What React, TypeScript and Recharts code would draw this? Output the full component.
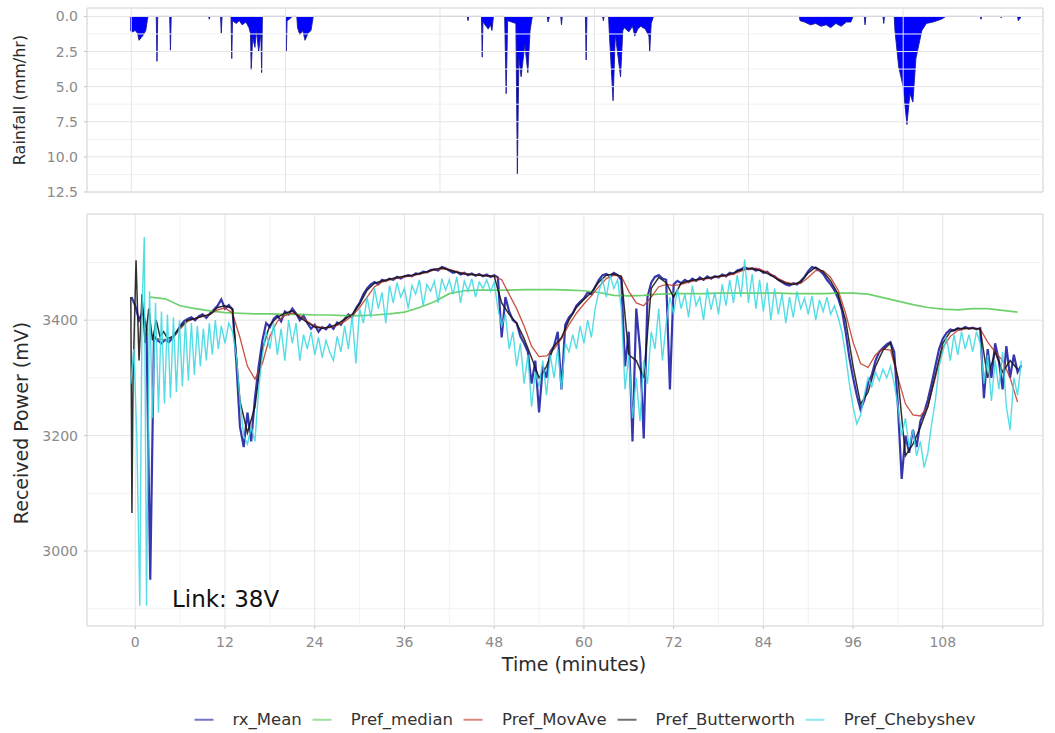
import React from 'react';
import { ComposedChart, Line, Area, XAxis, YAxis, ReferenceLine, ReferenceArea } from 'recharts';

const FONT = '"DejaVu Sans", "Liberation Sans", Arial, sans-serif';

// shared time window (minutes) for both panels
const TIME_DOMAIN: [number, number] = [-6.46, 121.4];
const TIME_TICKS = [0, 12, 24, 36, 48, 60, 72, 84, 96, 108];
const TIME_MINOR = [6, 18, 30, 42, 54, 66, 78, 90, 102];

const RAIN_DOMAIN: [number, number] = [-0.6, 12.5];
const RAIN_TICKS = [0, 2.5, 5, 7.5, 10, 12.5];
const RAIN_MINOR = [1.25, 3.75, 6.25, 8.75, 11.25];
const RAIN_GRID_X = [-0.54, 20.1, 40.75, 61.4, 82.0, 102.7];

const POWER_DOMAIN: [number, number] = [2870, 3584];
const POWER_TICKS = [3000, 3200, 3400];
const POWER_MINOR = [2900, 3100, 3300, 3500];

const seriesNames = ['rx_Mean', 'Pref_median', 'Pref_MovAve', 'Pref_Butterworth', 'Pref_Chebyshev'];
const seriesColors = ['#1a1aa3', '#5acb5a', '#c0392b', '#141414', '#3dd8e2'];

// rain gauge, mm/hr
const rainMinutes = [
  -0.7, -0.4, 0, 0.3, 0.5, 0.8, 1.1, 1.4, 1.6, 1.7,
  2.8, 2.9, 3.0, 4.6, 4.7, 4.8, 9.8, 9.9, 10.0, 11.4, 11.5, 11.6,
  12.8, 12.9, 13.0, 13.5, 13.9, 14.3, 14.8, 15.2, 15.4, 15.5, 15.7, 16.0, 16.2, 16.5, 16.8, 16.9, 17.0,
  20.1, 20.2, 20.3, 20.6, 21.0,
  21.6, 21.7, 22.0, 22.4, 22.7, 23.1, 23.5, 23.8,
  44.4, 44.5, 44.6,
  46.3, 46.4, 46.5, 47.2, 47.5, 47.7, 47.9,
  49.4, 49.6, 49.8, 50.9, 51.1, 51.3, 51.6, 52.1, 52.5, 52.8, 53.1,
  55.1, 55.2, 55.4, 56.9, 57.0, 57.1,
  60.2, 60.3, 60.4,
  62.5, 62.6, 62.7,
  63.3, 63.4, 63.9, 64.2, 64.9, 65.2, 65.4, 66.0, 66.5, 66.8, 67.2, 67.6, 68.2, 68.7, 68.8, 69.0, 69.3,
  88.8, 88.9, 89.5, 90.3, 91.0, 91.7, 92.4, 93.0, 93.7, 94.4, 95.1, 95.7, 96.0,
  97.5, 97.6, 97.7,
  100.0, 100.1, 100.2,
  101.5, 101.6, 102.1, 102.7, 103.2, 103.6, 104.0, 104.4, 104.8, 105.2, 105.8, 106.7, 107.8, 108.4,
  113.0, 113.1, 113.2, 115.7, 115.8, 115.9, 118.0, 118.1, 118.5,
];
const rainRate = [
  1.0, 1.1, 1.0, 1.2, 1.7, 1.5, 1.3, 1.0, 0.3, 0,
  0, 3.2, 0, 0, 2.4, 0, 0, 0.2, 0, 0, 1.2, 0,
  0, 3.0, 0.3, 0.5, 0.3, 0.6, 0.4, 0.8, 1.2, 3.8, 1.5, 2.2, 1.0, 2.5, 1.2, 4.0, 0,
  0, 2.5, 0.3, 0.2, 0,
  0, 0.8, 1.3, 1.0, 1.7, 1.2, 1.0, 0,
  0, 0.3, 0,
  0, 2.9, 0.4, 0.9, 0.6, 1.0, 0,
  0, 5.5, 0.3, 0.5, 11.2, 3.0, 4.3, 2.0, 4.0, 1.0, 0,
  0, 0.4, 0, 0, 0.6, 0,
  0, 3.1, 0,
  0, 0.3, 0,
  0, 1.2, 6.0, 1.3, 4.3, 1.0, 0.8, 1.1, 0.7, 1.4, 0.9, 0.7, 0.9, 1.4, 2.5, 0.5, 0,
  0, 0.3, 0.4, 0.6, 0.5, 0.7, 0.6, 0.8, 0.5, 0.7, 0.4, 0.4, 0,
  0, 0.6, 0,
  0, 0.5, 0,
  0, 1.0, 3.6, 5.0, 7.7, 5.5, 6.1, 3.0, 2.0, 1.0, 0.5, 0.4, 0.2, 0,
  0, 0.2, 0, 0, 0.1, 0, 0, 0.3, 0,
];

// received power, mV — rx_Mean every 0.5 min from -0.5
const RX_START = -0.5;
const rxMean = [
  3440,
  3425, 3400, 3415, 3385, 2950, 3372, 3365, 3360, 3366, 3362, // 0
  3370, 3378, 3390, 3398, 3402, 3405, 3400, 3407, 3410, 3404, // 5
  3412, 3418, 3425, 3436, 3420, 3426, 3418, 3330, 3215, 3180, // 10
  3240, 3190, 3265, 3320, 3365, 3395, 3388, 3402, 3408, 3398, // 15
  3415, 3410, 3420, 3412, 3400, 3408, 3395, 3385, 3392, 3380, // 20
  3388, 3384, 3392, 3385, 3396, 3392, 3402, 3410, 3405, 3420, // 25
  3430, 3445, 3455, 3462, 3466, 3462, 3470, 3468, 3472, 3470, // 30
  3475, 3472, 3476, 3478, 3476, 3481, 3480, 3484, 3483, 3487, // 35
  3488, 3486, 3492, 3490, 3486, 3482, 3484, 3479, 3482, 3478, // 40
  3481, 3477, 3480, 3476, 3479, 3475, 3478, 3474, 3370, 3440, // 45
  3415, 3400, 3395, 3372, 3360, 3345, 3290, 3330, 3240, 3320, // 50
  3300, 3345, 3355, 3380, 3280, 3392, 3405, 3412, 3425, 3432, // 55
  3438, 3448, 3445, 3458, 3470, 3478, 3480, 3476, 3482, 3478, // 60
  3470, 3320, 3380, 3190, 3420, 3350, 3195, 3440, 3465, 3475, // 65
  3478, 3472, 3470, 3280, 3462, 3468, 3464, 3470, 3466, 3472, // 70
  3468, 3474, 3470, 3476, 3472, 3476, 3474, 3479, 3476, 3482, // 75
  3480, 3486, 3488, 3492, 3488, 3490, 3486, 3488, 3482, 3484, // 80
  3478, 3476, 3470, 3466, 3462, 3460, 3464, 3462, 3468, 3475, // 85
  3485, 3492, 3490, 3486, 3480, 3470, 3462, 3452, 3438, 3418, // 90
  3380, 3335, 3300, 3270, 3245, 3262, 3290, 3305, 3330, 3345, // 95
  3352, 3358, 3362, 3345, 3250, 3125, 3200, 3170, 3210, 3180, // 100
  3225, 3240, 3262, 3290, 3320, 3350, 3368, 3378, 3384, 3382, // 105
  3386, 3384, 3388, 3385, 3387, 3384, 3386, 3265, 3350, 3300, // 110
  3360, 3330, 3280, 3355, 3300, 3340, 3310, 3322, // 115
];

// Pref_median every 2 min from 2
const MEDIAN_START = 2;
const prefMedian = [
  3440, 3437, 3425, 3420, 3416, 3413, 3412, 3411, 3411,
  3410, 3410, 3409, 3409, 3408, 3408, 3409, 3411, 3414, 3422,
  3432, 3446, 3451, 3452, 3452, 3452, 3453, 3453, 3453, 3452,
  3451, 3448, 3443, 3442, 3443, 3445, 3446, 3446, 3446, 3447,
  3447, 3447, 3447, 3447, 3446, 3446, 3446, 3447, 3447, 3445,
  3439, 3433, 3427, 3422, 3419, 3418, 3420, 3420, 3417, 3414,
];

// Pref_MovAve every 1 min from 3
const MOVAVE_START = 3;
const prefMovAve = [
  3368, 3365, 3370, 3385, 3398, 3403, 3406, 3410, 3418, 3421,
  3412, 3370, 3320, 3298, 3325, 3372, 3398, 3408, 3412, 3408,
  3398, 3390, 3387, 3387, 3391, 3398, 3407, 3422, 3440, 3458,
  3466, 3470, 3473, 3475, 3477, 3480, 3483, 3487, 3489, 3488,
  3484, 3481, 3479, 3478, 3477, 3476, 3470, 3445, 3420, 3390,
  3355, 3337, 3338, 3350, 3368, 3392, 3412, 3428, 3442, 3458,
  3472, 3478, 3476, 3450, 3430, 3425, 3440, 3458, 3462, 3460,
  3462, 3466, 3469, 3471, 3473, 3475, 3477, 3480, 3485, 3489,
  3490, 3486, 3480, 3472, 3466, 3463, 3464, 3474, 3486, 3486,
  3474, 3452, 3412, 3362, 3325, 3318, 3340, 3350, 3348, 3300,
  3255, 3236, 3234, 3250, 3300, 3352, 3372, 3382, 3385, 3386,
  3385, 3362, 3345, 3330, 3300, 3258,
];

// Pref_Butterworth: start-up transient, then every 1 min from 5
const butterworthStartMinutes = [-0.6, -0.45, -0.3, 0.1, 0.5, 0.9, 1.3, 1.8, 2.3, 2.8, 3.3, 3.8, 4.3];
const butterworthStartValues = [3440, 3066, 3300, 3504, 3330, 3445, 3360, 3420, 3365, 3400, 3372, 3380, 3368];
const BUTTERWORTH_START = 5;
const prefButterworth = [
  3372, 3388, 3400, 3403, 3407, 3410, 3422, 3425, 3420, 3260,
  3205, 3250, 3350, 3392, 3405, 3412, 3416, 3405, 3396, 3388,
  3386, 3388, 3393, 3402, 3410, 3428, 3452, 3464, 3468, 3471,
  3474, 3476, 3478, 3481, 3484, 3488, 3491, 3487, 3483, 3480,
  3479, 3478, 3477, 3476, 3430, 3410, 3395, 3368, 3335, 3300,
  3320, 3355, 3370, 3400, 3422, 3436, 3448, 3466, 3478, 3480,
  3476, 3340, 3330, 3300, 3455, 3474, 3465, 3440, 3464, 3468,
  3470, 3472, 3474, 3476, 3478, 3482, 3487, 3490, 3488, 3484,
  3478, 3470, 3464, 3462, 3466, 3482, 3492, 3484, 3468, 3445,
  3400, 3320, 3255, 3275, 3320, 3348, 3360, 3300, 3165, 3185,
  3215, 3250, 3305, 3360, 3380, 3385, 3386, 3386, 3385, 3300,
  3345, 3310, 3330, 3315,
];

// Pref_Chebyshev: ringing at start-up, then every 0.5 min from 12
const chebyshevStartMinutes = [
  -0.6, -0.2, 0.2, 0.6, 0.9, 1.2, 1.5, 1.9, 2.3, 2.7, 3.1, 3.5, 3.9, 4.3, 4.7, 5.1,
  5.5, 5.9, 6.3, 6.7, 7.1, 7.5, 7.9, 8.3, 8.7, 9.1, 9.5, 9.9, 10.3, 10.7, 11.1, 11.5,
];
const chebyshevStartValues = [
  3290, 3350, 3200, 2905, 3420, 3544, 2905, 3450, 3230, 3430, 3240, 3415, 3255, 3410, 3265, 3405,
  3275, 3400, 3285, 3398, 3295, 3395, 3305, 3390, 3320, 3385, 3330, 3395, 3340, 3400, 3350, 3390,
];
const CHEBYSHEV_START = 12;
const prefChebyshev = [
  3360, 3395, 3380, 3340, 3260, 3200, 3185, 3215, 3190, 3280, // 12
  3340, 3380, 3350, 3395, 3340, 3385, 3330, 3400, 3360, 3395, // 17
  3330, 3375, 3350, 3380, 3340, 3370, 3335, 3365, 3345, 3330, // 22
  3372, 3345, 3390, 3350, 3408, 3325, 3420, 3395, 3440, 3405, // 27
  3455, 3420, 3448, 3395, 3460, 3430, 3465, 3440, 3455, 3420, // 32
  3460, 3445, 3470, 3425, 3462, 3450, 3468, 3430, 3472, 3452, // 37
  3470, 3445, 3475, 3430, 3468, 3450, 3472, 3440, 3466, 3455, // 42
  3470, 3450, 3465, 3420, 3390, 3410, 3350, 3380, 3320, 3360, // 47
  3290, 3340, 3250, 3310, 3285, 3330, 3270, 3340, 3300, 3350, // 52
  3280, 3360, 3345, 3375, 3350, 3390, 3360, 3400, 3370, 3420, // 57
  3450, 3470, 3440, 3478, 3455, 3470, 3420, 3280, 3340, 3230, // 62
  3300, 3225, 3330, 3290, 3380, 3350, 3420, 3330, 3395, 3440, // 67
  3410, 3455, 3420, 3445, 3405, 3460, 3425, 3440, 3400, 3455, // 72
  3418, 3448, 3410, 3462, 3425, 3470, 3430, 3478, 3440, 3505, // 77
  3430, 3480, 3420, 3470, 3415, 3465, 3400, 3455, 3410, 3445, // 82
  3395, 3440, 3405, 3450, 3420, 3438, 3410, 3442, 3400, 3435, // 87
  3415, 3440, 3410, 3425, 3405, 3380, 3340, 3290, 3250, 3220, // 92
  3235, 3270, 3300, 3285, 3310, 3295, 3315, 3300, 3320, 3290, // 97
  3250, 3200, 3230, 3180, 3210, 3165, 3190, 3145, 3170, 3220, // 102
  3260, 3320, 3345, 3370, 3330, 3375, 3340, 3380, 3350, 3375, // 107
  3345, 3380, 3360, 3290, 3340, 3260, 3330, 3280, 3345, 3250, // 112
  3210, 3300, 3270, 3330, // 117
];

type Pt = { t: number; v: number };
const onGrid = (start: number, step: number, values: number[]): Pt[] =>
  values.map((v, i) => ({ t: Math.round((start + i * step) * 100) / 100, v }));
const paired = (times: number[], values: number[]): Pt[] => times.map((t, i) => ({ t, v: values[i] }));

const rainData = paired(rainMinutes, rainRate);
const rxData = onGrid(RX_START, 0.5, rxMean);
const medianData = onGrid(MEDIAN_START, 2, prefMedian);
const movAveData = onGrid(MOVAVE_START, 1, prefMovAve);
const butterworthData = [
  ...paired(butterworthStartMinutes, butterworthStartValues),
  ...onGrid(BUTTERWORTH_START, 1, prefButterworth),
];
const chebyshevData = [
  ...paired(chebyshevStartMinutes, chebyshevStartValues),
  ...onGrid(CHEBYSHEV_START, 0.5, prefChebyshev),
];
const lineData = [rxData, medianData, movAveData, butterworthData, chebyshevData];
const lineWidths = [2.2, 1.7, 1.3, 1.5, 1.4];

const MAJOR = '#e4e4e4';
const MINOR = '#f2f2f2';
const BORDER = '#cfcfcf';
const tickStyle = { fontFamily: FONT, fontSize: 14, fill: '#8a8a8a' };

const RainPanel = () => (
  <ComposedChart width={1055} height={200} margin={{ top: 8, right: 12, bottom: 8, left: 0 }}>
    <XAxis type="number" dataKey="t" domain={TIME_DOMAIN} allowDataOverflow hide />
    <YAxis
      type="number"
      reversed
      domain={RAIN_DOMAIN}
      ticks={RAIN_TICKS}
      allowDataOverflow
      width={87}
      axisLine={false}
      tickLine={{ stroke: '#c4c4c4' }}
      tickSize={3}
      tickMargin={6}
      tick={tickStyle}
      tickFormatter={(v: number) => v.toFixed(1)}
      interval={0}
    />
    {RAIN_MINOR.map((y) => <ReferenceLine key={`rm${y}`} y={y} stroke={MINOR} />)}
    {RAIN_TICKS.map((y) => <ReferenceLine key={`ry${y}`} y={y} stroke={MAJOR} />)}
    {RAIN_GRID_X.map((x) => <ReferenceLine key={`rx${x}`} x={x} stroke={MAJOR} />)}
    <ReferenceArea x1={TIME_DOMAIN[0]} x2={TIME_DOMAIN[1]} y1={RAIN_DOMAIN[0]} y2={RAIN_DOMAIN[1]} fill="none" stroke={BORDER} />
    <Area
      data={rainData}
      dataKey="v"
      type="linear"
      baseValue={0}
      fill="#0000ff"
      fillOpacity={1}
      stroke="#1c1c9a"
      strokeWidth={0.9}
      dot={false}
      isAnimationActive={false}
    />
  </ComposedChart>
);

const PowerPanel = () => (
  <ComposedChart width={1055} height={533} margin={{ top: 14, right: 12, bottom: 77, left: 0 }}>
    <XAxis
      type="number"
      dataKey="t"
      domain={TIME_DOMAIN}
      ticks={TIME_TICKS}
      allowDataOverflow
      height={30}
      axisLine={false}
      tickLine={{ stroke: '#c4c4c4' }}
      tickSize={3}
      tickMargin={8}
      tick={tickStyle}
      interval={0}
    />
    <YAxis
      type="number"
      domain={POWER_DOMAIN}
      ticks={POWER_TICKS}
      allowDataOverflow
      width={87}
      axisLine={false}
      tickLine={{ stroke: '#c4c4c4' }}
      tickSize={3}
      tickMargin={6}
      tick={tickStyle}
      interval={0}
    />
    {POWER_MINOR.map((y) => <ReferenceLine key={`pm${y}`} y={y} stroke={MINOR} />)}
    {TIME_MINOR.map((x) => <ReferenceLine key={`tm${x}`} x={x} stroke={MINOR} />)}
    {POWER_TICKS.map((y) => <ReferenceLine key={`py${y}`} y={y} stroke={MAJOR} />)}
    {TIME_TICKS.map((x) => <ReferenceLine key={`tx${x}`} x={x} stroke={MAJOR} />)}
    <ReferenceArea x1={TIME_DOMAIN[0]} x2={TIME_DOMAIN[1]} y1={POWER_DOMAIN[0]} y2={POWER_DOMAIN[1]} fill="none" stroke={BORDER} />
    {lineData.map((data, i) => (
      <Line
        key={seriesNames[i]}
        data={data}
        dataKey="v"
        name={seriesNames[i]}
        type="linear"
        stroke={seriesColors[i]}
        strokeWidth={lineWidths[i]}
        strokeOpacity={0.88}
        dot={false}
        isAnimationActive={false}
      />
    ))}
  </ComposedChart>
);

const rotated = (left: number, top: number, size: number): React.CSSProperties => ({
  position: 'absolute',
  left,
  top,
  transform: 'translate(-50%, -50%) rotate(-90deg)',
  fontSize: size,
  color: '#2b2b2b',
  whiteSpace: 'nowrap',
  lineHeight: 1,
});

export default function App() {
  return (
    <div
      style={{
        position: 'absolute',
        left: 0,
        top: 0,
        width: 1055,
        height: 733,
        overflow: 'hidden',
        background: '#ffffff',
        fontFamily: FONT,
      }}
    >
      <div style={{ position: 'absolute', left: 0, top: 0 }}>
        <RainPanel />
      </div>
      <div style={{ position: 'absolute', left: 0, top: 200 }}>
        <PowerPanel />
      </div>

      <div style={rotated(20, 100, 16)}>Rainfall (mm/hr)</div>
      <div style={rotated(21, 423, 19)}>Received Power (mV)</div>
      <div
        style={{
          position: 'absolute',
          left: 574,
          top: 664,
          transform: 'translate(-50%, -50%)',
          fontSize: 19,
          color: '#2b2b2b',
          whiteSpace: 'nowrap',
          lineHeight: 1,
        }}
      >
        Time (minutes)
      </div>
      <div style={{ position: 'absolute', left: 172, top: 588, fontSize: 23, color: '#111', lineHeight: 1, whiteSpace: 'nowrap' }}>
        Link: 38V
      </div>

      <div
        style={{
          position: 'absolute',
          left: 585,
          top: 720,
          transform: 'translate(-50%, -50%)',
          display: 'flex',
          alignItems: 'center',
          fontSize: 16.5,
          color: '#333',
          whiteSpace: 'nowrap',
          lineHeight: 1,
        }}
      >
        {seriesNames.map((name, i) => (
          <div key={name} style={{ display: 'flex', alignItems: 'center', marginRight: i < seriesNames.length - 1 ? 11 : 0 }}>
            <span
              style={{
                display: 'inline-block',
                width: 19,
                height: 2,
                background: seriesColors[i],
                opacity: 0.6,
                marginRight: 19,
              }}
            />
            <span>{name}</span>
          </div>
        ))}
      </div>
    </div>
  );
}
